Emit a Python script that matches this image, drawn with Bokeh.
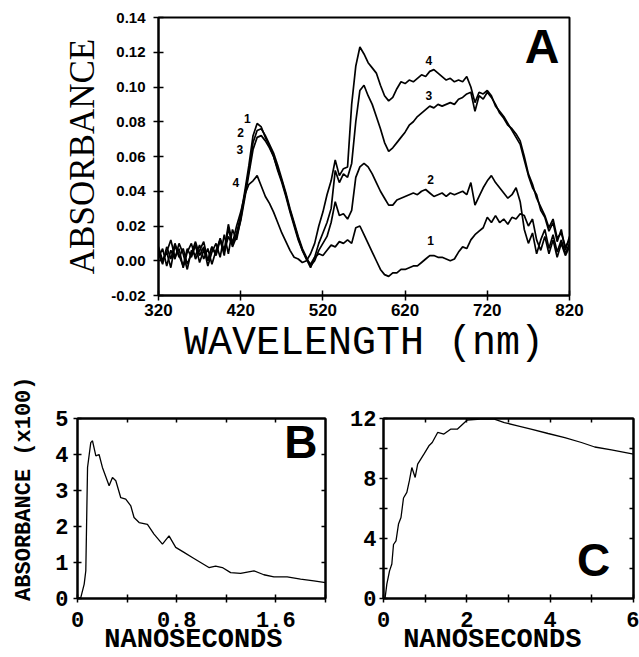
from math import pi
from bokeh.plotting import figure
from bokeh.layouts import column, row
from bokeh.models import (FixedTicker, Label, LinearAxis, NumeralTickFormatter,
                          Range1d, CustomJSTickFormatter)
from bokeh.embed import file_html
from bokeh.resources import INLINE

# ---------------- data ----------------
wavelength_nm = list(range(320, 821, 5))

absorb_1 = [
    0.004, -0.002, 0.008, 0.001, 0.010, 0.003, -0.003, 0.007, 0.002, 0.009,
    -0.001, 0.006, 0.000, 0.008, 0.003, 0.012, 0.005, 0.014, 0.009, 0.016,
    0.026, 0.040, 0.055, 0.072, 0.079, 0.077, 0.071, 0.066, 0.060, 0.052,
    0.045, 0.037, 0.028, 0.020, 0.012, 0.006, 0.001, -0.002, 0.002, 0.004,
    0.003, 0.006, 0.009, 0.008, 0.011, 0.010, 0.012, 0.010, 0.019, 0.020,
    0.015, 0.010, 0.005, 0.000, -0.005, -0.008, -0.009, -0.007, -0.007, -0.005,
    -0.005, -0.004, -0.003, -0.003, -0.001, 0.001, 0.003, 0.003, 0.002, 0.002,
    0.001, 0.000, 0.001, 0.005, 0.008, 0.007, 0.012, 0.015, 0.017, 0.019,
    0.025, 0.022, 0.026, 0.022, 0.024, 0.021, 0.025, 0.024, 0.027, 0.026,
    0.020, 0.024, 0.012, 0.006, 0.014, 0.004, 0.012, 0.002, 0.010, 0.003,
    0.008,
]
absorb_2 = [
    0.006, 0.000, 0.005, -0.004, 0.009, 0.002, 0.007, -0.002, 0.004, 0.011,
    0.003, 0.008, -0.003, 0.005, 0.010, 0.002, 0.015, 0.004, 0.018, 0.012,
    0.024, 0.038, 0.052, 0.068, 0.075, 0.076, 0.072, 0.067, 0.062, 0.055,
    0.047, 0.039, 0.030, 0.022, 0.014, 0.007, 0.002, -0.003, 0.000, 0.006,
    0.010, 0.014, 0.022, 0.034, 0.026, 0.027, 0.024, 0.029, 0.048, 0.054,
    0.056, 0.054, 0.050, 0.045, 0.040, 0.036, 0.032, 0.032, 0.035, 0.036,
    0.037, 0.038, 0.039, 0.038, 0.040, 0.041, 0.039, 0.037, 0.038, 0.039,
    0.037, 0.039, 0.038, 0.039, 0.040, 0.038, 0.045, 0.032, 0.037, 0.042,
    0.046, 0.049, 0.045, 0.042, 0.039, 0.036, 0.038, 0.042, 0.034, 0.018,
    0.010, 0.016, 0.004, 0.012, 0.018, 0.007, 0.015, 0.005, 0.012, 0.004,
    0.010,
]
absorb_3 = [
    0.002, 0.007, -0.003, 0.006, 0.001, 0.010, 0.004, -0.005, 0.006, 0.003,
    0.009, 0.001, 0.007, -0.002, 0.006, 0.012, 0.003, 0.019, 0.008, 0.014,
    0.023, 0.036, 0.050, 0.064, 0.071, 0.072, 0.069, 0.065, 0.060, 0.053,
    0.046, 0.038, 0.029, 0.021, 0.013, 0.006, 0.001, -0.004, 0.002, 0.010,
    0.016, 0.022, 0.030, 0.052, 0.045, 0.050, 0.048, 0.056, 0.080, 0.098,
    0.101, 0.095, 0.090, 0.083, 0.076, 0.068, 0.063, 0.065, 0.068, 0.071,
    0.074, 0.078, 0.080, 0.083, 0.085, 0.087, 0.089, 0.088, 0.090, 0.089,
    0.090, 0.091, 0.090, 0.093, 0.094, 0.096, 0.097, 0.086, 0.095, 0.093,
    0.097, 0.094, 0.090, 0.085, 0.082, 0.078, 0.076, 0.073, 0.069, 0.060,
    0.050, 0.044, 0.036, 0.031, 0.026, 0.019, 0.024, 0.013, 0.016, 0.008,
    0.012,
]
absorb_4 = [
    0.008, 0.000, 0.005, 0.012, 0.002, 0.007, -0.004, 0.005, 0.010, 0.001,
    0.006, 0.011, 0.000, 0.008, 0.004, 0.013, 0.006, 0.021, 0.010, 0.020,
    0.028, 0.038, 0.044, 0.046, 0.049, 0.043, 0.037, 0.033, 0.028, 0.022,
    0.016, 0.011, 0.006, 0.002, 0.001, -0.001, 0.000, 0.004, 0.010, 0.020,
    0.028, 0.038, 0.046, 0.058, 0.049, 0.053, 0.054, 0.090, 0.112, 0.123,
    0.119, 0.114, 0.111, 0.108, 0.101, 0.095, 0.092, 0.094, 0.099, 0.103,
    0.102, 0.104, 0.103, 0.105, 0.107, 0.106, 0.109, 0.110, 0.108, 0.106,
    0.104, 0.105, 0.103, 0.104, 0.103, 0.106, 0.100, 0.091, 0.097, 0.096,
    0.098, 0.095, 0.089, 0.086, 0.083, 0.079, 0.075, 0.071, 0.067, 0.058,
    0.049, 0.042, 0.038, 0.029, 0.025, 0.017, 0.022, 0.011, 0.018, 0.006,
    0.014,
]

time_b_ns = [0.0, 0.027, 0.054, 0.067, 0.081, 0.107, 0.121, 0.148, 0.174, 0.201,
             0.255, 0.282, 0.309, 0.349, 0.389, 0.43, 0.456, 0.497, 0.564, 0.617,
             0.685, 0.738, 0.792, 0.859, 0.926, 0.993, 1.06, 1.114, 1.168, 1.235,
             1.315, 1.423, 1.503, 1.584, 1.691, 1.799, 1.906, 2.0]
absorb_b = [0.0, 0.03, 0.40, 0.77, 3.64, 4.33, 4.38, 3.96, 4.0, 3.64,
            3.13, 3.36, 3.27, 2.8, 2.76, 2.57, 2.25, 2.11, 2.06, 1.79,
            1.51, 1.74, 1.42, 1.28, 1.14, 1.0, 0.86, 0.9, 0.86, 0.72,
            0.70, 0.77, 0.66, 0.6, 0.6, 0.54, 0.49, 0.44]

time_c_ns = [0.0, 0.04, 0.08, 0.145, 0.2, 0.24, 0.3, 0.36, 0.42, 0.48,
             0.56, 0.62, 0.68, 0.76, 0.82, 0.97, 1.09, 1.17, 1.3, 1.45,
             1.61, 1.77, 2.01, 2.33, 2.66, 2.9, 3.22, 3.54, 3.95, 4.35,
             4.75, 5.07, 5.47, 6.0]
absorb_c = [0.0, 0.07, 0.96, 1.84, 2.3, 3.6, 3.84, 4.96, 5.4, 6.7,
            7.07, 7.84, 8.73, 8.07, 8.96, 9.62, 10.18, 10.4, 11.07, 10.96,
            11.29, 11.29, 11.9, 11.96, 11.96, 11.73, 11.51, 11.29, 11.0, 10.73,
            10.4, 10.1, 9.91, 9.62]

a_xticks = [320, 420, 520, 620, 720, 820]
a_yticks = [-0.02, 0.0, 0.02, 0.04, 0.06, 0.08, 0.10, 0.12, 0.14]
b_xticks = [0, 0.8, 1.6]
b_xminor = [0.4, 1.2, 2.0]
b_yticks = [0, 1, 2, 3, 4, 5]
c_xticks = [0, 2, 4, 6]
c_xminor = [1, 3, 5]
c_yticks = [0, 4, 8, 12]
c_yminor = [2, 6, 10]

curve_labels = ["1", "2", "3", "4"]

# ---------------- helpers ----------------
MONO = "Liberation Mono"
SANS = "Liberation Sans"
SERIF = "Liberation Serif"
NBSP = "\u00a0"


def style_axis(ax, font, size, style, tick, standoff):
    ax.axis_line_width = 2
    ax.axis_line_color = "black"
    ax.major_tick_line_width = 1.5
    ax.minor_tick_line_width = 1.5
    ax.major_tick_in = tick
    ax.major_tick_out = tick
    ax.minor_tick_in = tick
    ax.minor_tick_out = tick
    ax.major_label_text_font = font
    ax.major_label_text_font_size = size
    ax.major_label_text_font_style = style
    ax.major_label_text_color = "black"
    ax.major_label_standoff = standoff


def title_axis(ax, text, font, size, style, standoff):
    ax.axis_label = text
    ax.axis_label_text_font = font
    ax.axis_label_text_font_size = size
    ax.axis_label_text_font_style = style
    ax.axis_label_text_color = "black"
    ax.axis_label_standoff = standoff


def inner_axis(p, side, ticks):
    ax = LinearAxis(ticker=FixedTicker(ticks=ticks),
                    formatter=CustomJSTickFormatter(code="return ''"))
    ax.axis_line_width = 2
    ax.major_tick_in = 4
    ax.major_tick_out = 0
    ax.minor_tick_in = 0
    ax.minor_tick_out = 0
    ax.major_tick_line_width = 1.5
    ax.major_label_standoff = 0
    p.add_layout(ax, side)


def base_fig(w, h, xr, yr, left, right, top, bottom):
    p = figure(width=w, height=h, x_range=Range1d(*xr), y_range=Range1d(*yr),
               output_backend="svg", toolbar_location=None,
               min_border_left=left, min_border_right=right,
               min_border_top=top, min_border_bottom=bottom)
    p.grid.visible = False
    p.outline_line_color = "black"
    p.outline_line_width = 2
    p.outline_line_alpha = 1
    p.background_fill_color = "white"
    p.border_fill_color = "white"
    return p


def add_text(p, x, y, txt, size):
    p.add_layout(Label(x=x, y=y, text=txt, text_font=SANS, text_font_size=size,
                       text_font_style="bold", text_align="center",
                       text_baseline="middle", text_color="black"))


# ---------------- panel A ----------------
pA = base_fig(639, 372, (320, 820), (-0.02, 0.14), 158, 70, 17, 77)
pA.xaxis.ticker = FixedTicker(ticks=a_xticks)
pA.yaxis.ticker = FixedTicker(ticks=a_yticks)
pA.yaxis.formatter = NumeralTickFormatter(format="0.00")
style_axis(pA.xaxis[0], SANS, "17px", "bold", 5, 3)
style_axis(pA.yaxis[0], SANS, "15px", "bold", 5, 8)
title_axis(pA.xaxis[0], "WAVELENGTH (nm)", MONO, "40px", "normal", 2)
title_axis(pA.yaxis[0], "ABSORBANCE", SERIF, "35px", "normal", 6)

for series in (absorb_1, absorb_2, absorb_3, absorb_4):
    pA.line(wavelength_nm, series, line_color="black", line_width=1.7)

label_pos_blue = [(428, 0.082), (420, 0.074), (419, 0.064), (414, 0.045)]
label_pos_red = [(651, 0.0115), (651, 0.047), (649, 0.095), (649, 0.115)]
for txt, (x, y) in zip(curve_labels, label_pos_blue):
    add_text(pA, x, y, txt, "12px")
for txt, (x, y) in zip(curve_labels, label_pos_red):
    add_text(pA, x, y, txt, "12px")
add_text(pA, 786.5, 0.1233, "A", "48px")

# ---------------- panel B ----------------
pB = base_fig(333, 285, (0, 2.0), (0, 5), 77, 8, 46, 59)
pB.xaxis.ticker = FixedTicker(ticks=b_xticks, minor_ticks=b_xminor)
pB.xaxis.formatter = NumeralTickFormatter(format="0.[0]")
pB.yaxis.ticker = FixedTicker(ticks=b_yticks)
style_axis(pB.xaxis[0], MONO, "22px", "bold", 4, 9)
style_axis(pB.yaxis[0], MONO, "22px", "bold", 4, 5)
title_axis(pB.xaxis[0], "NANOSECONDS" + NBSP, MONO, "27px", "bold", -5)
title_axis(pB.yaxis[0], NBSP * 3 + "ABSORBANCE (x100)", MONO, "22px", "bold", 15)
inner_axis(pB, "right", [1, 2, 3, 4])
inner_axis(pB, "above", [0.4, 0.8, 1.2, 1.6])
pB.line(time_b_ns, absorb_b, line_color="black", line_width=1.3)
add_text(pB, 1.802, 4.35, "B", "46px")

# ---------------- panel C ----------------
pC = base_fig(306, 285, (0, 6), (0, 12), 50, 6, 46, 59)
pC.xaxis.ticker = FixedTicker(ticks=c_xticks, minor_ticks=c_xminor)
pC.yaxis.ticker = FixedTicker(ticks=c_yticks, minor_ticks=c_yminor)
style_axis(pC.xaxis[0], MONO, "22px", "bold", 4, 9)
style_axis(pC.yaxis[0], MONO, "22px", "bold", 4, 3)
title_axis(pC.xaxis[0], "NANOSECONDS" + NBSP * 2, MONO, "27px", "bold", -5)
inner_axis(pC, "right", [2, 4, 6, 8, 10])
inner_axis(pC, "above", [1, 2, 3, 4, 5])
pC.line(time_c_ns, absorb_c, line_color="black", line_width=1.3)
add_text(pC, 5.04, 2.6, "C", "46px")

layout = column(pA, row(pB, pC))
open("out.html", "w").write(file_html(layout, INLINE))
